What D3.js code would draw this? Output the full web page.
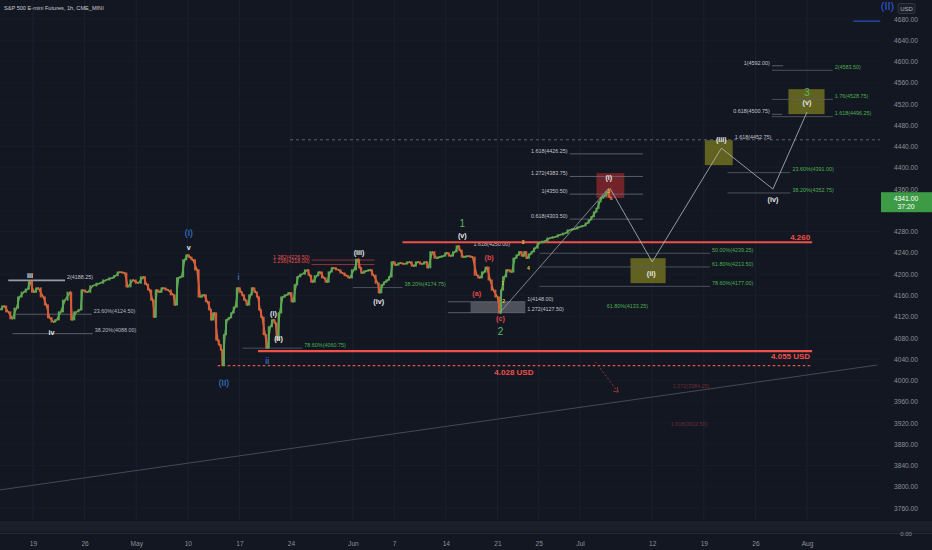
<!DOCTYPE html>
<html><head><meta charset="utf-8">
<script src="https://cdn.jsdelivr.net/npm/d3@7"></script>
<style>
html,body{margin:0;padding:0;background:#131722;}
svg{display:block;font-family:"Liberation Sans",Arial,sans-serif;}
</style></head>
<body><svg id="c" width="932" height="550"></svg>
<script>
// ---------- DATA ----------
const title = "S&P 500 E-mini Futures, 1h, CME_MINI";
// trading-day index (0 = Apr 19) and price
const days = [-3.2,-2.8,-2.4,-2.0,-1.6,-1.3,-0.9,-0.5,-0.3,0.1,0.5,1.0,1.3,1.6,2.0,2.3,2.7,3.1,3.6,3.8,4.2,4.6,4.8,5.3,5.8,6.5,7.1,7.7,8.0,8.4,8.9,9.2,9.7,10.2,10.7,11.0,11.3,11.6,11.8,12.0,12.3,12.6,13.1,13.6,13.8,14.1,14.4,14.7,15.0,15.2,15.5,15.9,16.2,16.6,16.9,17.2,17.3,17.6,17.9,18.1,18.3,18.4,18.6,18.8,19.1,19.3,19.6,19.9,20.2,20.3,20.6,20.8,21.1,21.3,21.6,21.8,22.0,22.2,22.5,22.7,23.0,23.3,23.5,23.7,23.9,24.2,24.6,24.9,25.2,25.5,25.7,26.1,26.6,26.8,27.1,27.5,27.8,28.2,28.5,28.8,29.1,29.6,30.0,30.4,30.7,31.1,31.5,31.7,31.9,32.3,32.7,33.0,33.4,33.6,33.9,34.1,34.4,34.6,34.9,35.2,35.6,36.0,36.5,36.9,37.3,37.7,38.1,38.3,38.7,39.1,39.4,39.8,40.1,40.5,40.9,41.2,41.4,41.7,42.2,42.6,43.0,43.3,43.7,44.0,44.3,44.6,45.0,45.3,45.4,45.7,46.0,46.4,46.7,47.0,47.2,47.5,47.7,47.9,48.2,48.4,48.7,49.1,49.6,50.1,50.6,51.1,51.6,52.0,52.5,53.0,53.4,53.7,54.0,54.2,54.5,54.7,54.9,55.1,55.4,55.7,55.9,56.1];
const prices = [4133,4140,4129,4116,4136,4157,4166,4172,4186,4166,4174,4157,4142,4118,4110,4114,4129,4151,4166,4114,4129,4133,4170,4166,4178,4183,4189,4193,4197,4204,4202,4176,4189,4183,4195,4181,4170,4151,4119,4170,4166,4174,4170,4161,4142,4193,4195,4227,4236,4232,4227,4208,4157,4161,4148,4133,4114,4127,4076,4067,4057,4028,4086,4114,4118,4127,4138,4174,4166,4161,4151,4142,4161,4174,4166,4157,4133,4119,4086,4061,4101,4114,4108,4076,4127,4157,4161,4165,4148,4180,4195,4200,4208,4198,4185,4197,4204,4193,4185,4204,4212,4208,4202,4197,4193,4208,4228,4212,4202,4206,4208,4198,4183,4165,4180,4185,4189,4195,4223,4217,4221,4219,4223,4215,4223,4219,4223,4212,4242,4230,4232,4234,4240,4234,4242,4253,4245,4232,4234,4232,4198,4193,4204,4213,4189,4170,4157,4127,4170,4195,4208,4204,4230,4236,4242,4234,4242,4230,4238,4242,4249,4259,4262,4268,4270,4274,4277,4283,4285,4289,4291,4296,4302,4308,4317,4324,4336,4343,4347,4355,4345,4341];
const lastPrice = 4341.00, countdown = "37:20";
const priceTicks = [3760,3800,3840,3880,3920,3960,4000,4040,4080,4120,4160,4200,4240,4280,4360,4400,4440,4480,4520,4560,4600,4640,4680];
const timeTickDays = [0,5,10,15,20,25,31,35,40,45,49,53,60,65,70,75];
const timeTickLabels = ["19","26","May","10","17","24","Jun","7","14","21","25","Jul","12","19","26","Aug"];

// key levels: price, from day, to day, label, dashed
const keyLevels = [
  {p:4260, d0:35.8, d1:75.5, label:"4.260", dash:false},
  {p:4055, d0:21.8, d1:75.5, label:"4.055 USD", dash:false},
  {p:4028, d0:17.9, d1:75.5, label:"4.028 USD", dash:true, ld:46.6}
];
// fib levels: text, price, line from/to day, text side ('r' = right of line, 'l' = left), colour key
const fibLevels = [
  {t:"2(4188.25)", p:4188.25, d0:-2.4, d1:3.1, side:"r", c:"w", bold:true},
  {t:"23.60%(4124.50)", p:4124.5, d0:-1.8, d1:5.7, side:"r", c:"g2"},
  {t:"38.20%(4088.00)", p:4088.0, d0:-2.0, d1:5.8, side:"r", c:"g2"},
  {t:"78.60%(4060.75)", p:4060.75, d0:20.3, d1:26.1, side:"r", c:"g"},
  {t:"1.382(4226.50)", p:4226.5, d0:27.0, d1:33.1, side:"l", c:"r"},
  {t:"1.236(4218.00)", p:4218.0, d0:27.0, d1:33.1, side:"l", c:"r"},
  {t:"38.20%(4174.75)", p:4174.75, d0:31.0, d1:35.8, side:"r", c:"g"},
  {t:"1.618(4250.00)", p:4250.0, d0:42.5, d1:42.5, side:"r", c:"w"},
  {t:"1(4148.00)", p:4148.0, d0:40.2, d1:47.7, side:"r", c:"w"},
  {t:"1.272(4127.50)", p:4127.5, d0:40.2, d1:47.7, side:"r", c:"w"},
  {t:"1.618(4426.25)", p:4426.25, d0:52.0, d1:59.1, side:"l", c:"w"},
  {t:"1.272(4383.75)", p:4383.75, d0:52.0, d1:59.1, side:"l", c:"w"},
  {t:"1(4350.50)", p:4350.5, d0:52.0, d1:59.1, side:"l", c:"w"},
  {t:"0.618(4303.50)", p:4303.5, d0:52.0, d1:59.1, side:"l", c:"w"},
  {t:"50.00%(4239.25)", p:4239.25, d0:49.1, d1:65.6, side:"r", c:"g"},
  {t:"61.80%(4213.50)", p:4213.5, d0:49.1, d1:65.6, side:"r", c:"g"},
  {t:"78.60%(4177.00)", p:4177.0, d0:49.1, d1:65.6, side:"r", c:"g"},
  {t:"61.80%(4133.25)", p:4133.25, d0:55.4, d1:55.4, side:"r", c:"g"},
  {t:"1.618(4452.75)", p:4452.75, d0:67.8, d1:67.8, side:"r", c:"w"},
  {t:"23.60%(4391.00)", p:4391.0, d0:67.3, d1:73.4, side:"r", c:"g"},
  {t:"38.20%(4352.75)", p:4352.75, d0:67.3, d1:73.4, side:"r", c:"g"},
  {t:"1(4592.00)", p:4592.0, d0:71.6, d1:72.7, side:"l", c:"w"},
  {t:"2(4583.50)", p:4583.5, d0:71.6, d1:77.5, side:"r", c:"g"},
  {t:"1.76(4528.75)", p:4528.75, d0:71.6, d1:77.5, side:"r", c:"g"},
  {t:"0.618(4500.75)", p:4500.75, d0:71.6, d1:72.6, side:"l", c:"w"},
  {t:"1.618(4496.25)", p:4496.25, d0:71.6, d1:77.5, side:"r", c:"g"},
  {t:"1.272(3984.25)", p:3984.25, d0:61.8, d1:61.8, side:"r", c:"dr"},
  {t:"1.618(3912.50)", p:3912.5, d0:61.6, d1:61.6, side:"r", c:"dr"}
];
const extLevel = {p:4452.75, d0:24.9, d1:82.1};   // dashed grey extension line
// target zones: day range, price range, kind
const zones = [
  {d0:54.6, d1:57.3, p0:4343, p1:4390, k:"red"},
  {d0:57.9, d1:61.3, p0:4183, p1:4230, k:"olive"},
  {d0:65.1, d1:67.8, p0:4405, p1:4452, k:"olive"},
  {d0:73.2, d1:76.7, p0:4501, p1:4548, k:"olive"},
  {d0:42.4, d1:47.7, p0:4127.5, p1:4148, k:"grey"}
];
// projected path
const projDays = [55.9, 60.0, 66.7, 71.7, 75.0];
const projPrices = [4362, 4223, 4437, 4360, 4505];
const channelDays = [45.3, 55.8], channelPrices = [4129, 4362];
const trendDays = [-3.2, 81.8], trendPrices = [3794, 4029];
const arrowDays = [54.5, 56.7], arrowPrices = [4035, 3978];
const topLineDays = [79.5, 82.1], topLinePrice = 4676;
// wave labels: text, day, price, kind
const waveLabels = [
  ["iii",-0.3,4198,"w"],["iv",1.8,4091,"w"],["(I)",15.1,4277,"b"],["v",15.1,4251,"w"],
  ["i",19.9,4195,"b"],["ii",22.7,4037,"b"],["(II)",18.5,3995,"b"],["(i)",23.3,4125,"w"],
  ["(ii)",23.8,4078,"w"],["(iii)",31.6,4240,"w"],["(iv)",33.5,4148,"w"],["1",41.6,4296,"G"],
  ["(v)",41.6,4272,"w"],["(b)",44.2,4232,"r"],["(a)",43.0,4163,"r"],["(c)",45.3,4116,"r"],
  ["2",45.3,4093,"G"],["1",45.5,4183,"y"],["2",45.6,4150,"y"],["3",47.5,4260,"y"],
  ["4",48.0,4212,"y"],["5",55.8,4356,"y"],["(i)",55.8,4381,"w"],["(ii)",59.9,4202,"w"],
  ["(iii)",66.7,4454,"w"],["(iv)",71.7,4341,"w"],["3",75.0,4541,"G"],["(v)",75.0,4522,"w"],
  ["(II)",82.8,4705,"B"]
];

// ---------- SCALES ----------
const W = 932, H = 550, plotR = 880, plotB = 520;
const x = d3.scaleLinear().domain([0, 75]).range([33, 807]);
const y = d3.scaleLinear().domain([3760, 4680]).range([508, 19]);
const svg = d3.select("#c");
svg.append("rect").attr("width",W).attr("height",H).attr("fill","#131722");

// grid
const grid = svg.append("g");
grid.selectAll("line.v").data(timeTickDays).join("line")
  .attr("x1",d=>x(d)).attr("x2",d=>x(d)).attr("y1",0).attr("y2",plotB)
  .attr("stroke","#1c2030").attr("stroke-width",1);
grid.selectAll("line.h").data(d3.range(3760,4700,40)).join("line")
  .attr("x1",0).attr("x2",plotR).attr("y1",d=>y(d)).attr("y2",d=>y(d))
  .attr("stroke","#181c28").attr("stroke-width",1);

const plot = svg.append("g");
svg.append("clipPath").attr("id","clip").append("rect").attr("width",plotR).attr("height",plotB);
plot.attr("clip-path","url(#clip)");

// trend line
plot.append("line").attr("x1",x(trendDays[0])).attr("y1",y(trendPrices[0]))
  .attr("x2",x(trendDays[1])).attr("y2",y(trendPrices[1])).attr("stroke","#4a4f5c").attr("stroke-width",0.9);

// zones
const zoneFill = {red:"rgba(150,40,45,0.72)", olive:"rgba(128,128,30,0.72)", grey:"rgba(150,152,160,0.45)"};
plot.selectAll("rect.z").data(zones).join("rect")
  .attr("x",d=>x(d.d0)).attr("width",d=>x(d.d1)-x(d.d0))
  .attr("y",d=>y(d.p1)).attr("height",d=>y(d.p0)-y(d.p1)).attr("fill",d=>zoneFill[d.k]);

// dashed extension
plot.append("line").attr("x1",x(extLevel.d0)).attr("x2",x(extLevel.d1)).attr("y1",y(extLevel.p)).attr("y2",y(extLevel.p))
  .attr("stroke","#5d6170").attr("stroke-width",1).attr("stroke-dasharray","3,3");

// fib lines + labels
const fibCol = {w:"#c3c5cc", g:"#4caf50", g2:"#b5b8c0", r:"#e05050", dr:"#6a2c30"};
const lineCol = {w:"#6b6f7a", g:"#5a5e69", g2:"#6b6f7a", r:"#b04040", dr:"#3a2024"};
fibLevels.forEach(f=>{
  if (f.d1 > f.d0) plot.append("line").attr("x1",x(f.d0)).attr("x2",x(f.d1)).attr("y1",y(f.p)).attr("y2",y(f.p))
    .attr("stroke", f.bold ? "#9a9ca3" : lineCol[f.c]).attr("stroke-width", f.bold?1.6:0.8);
  const tx = f.side==="r" ? x(f.d1)+2 : x(f.d0)-2;
  plot.append("text").attr("x",tx).attr("y",y(f.p)-1.2)
    .attr("text-anchor", f.side==="r" ? "start":"end")
    .attr("font-size",5.4).attr("fill",fibCol[f.c]).text(f.t);
});

// key levels
keyLevels.forEach(k=>{
  plot.append("line").attr("x1",x(k.d0)).attr("x2",x(k.d1)).attr("y1",y(k.p)).attr("y2",y(k.p))
    .attr("stroke","#f0504a").attr("stroke-width", k.dash?1.3:2.2).attr("stroke-dasharray",k.dash?"2.5,2.5":null);
});
plot.append("text").attr("x",x(keyLevels[0].d1)-2).attr("y",y(keyLevels[0].p)-2.5).attr("text-anchor","end")
  .attr("font-size",8).attr("font-weight","bold").attr("fill","#f0504a").text(keyLevels[0].label);
plot.append("text").attr("x",x(keyLevels[1].d1)-2).attr("y",y(keyLevels[1].p)+7.5).attr("text-anchor","end")
  .attr("font-size",8).attr("font-weight","bold").attr("fill","#f0504a").text(keyLevels[1].label);
plot.append("text").attr("x",x(keyLevels[2].ld)).attr("y",y(keyLevels[2].p)+9).attr("text-anchor","middle")
  .attr("font-size",8).attr("font-weight","bold").attr("fill","#f0504a").text(keyLevels[2].label);

// price path: segments plus narrow candle bodies
const cg = plot.append("g");
for (let i=1;i<days.length;i++){
  const o = prices[i-1], c = prices[i];
  const x0 = x(days[i-1]), x1 = x(days[i]);
  const up = c >= o;
  const col = up ? "#5aa855" : "#d95a3a";
  cg.append("line").attr("x1",x0).attr("y1",y(o)).attr("x2",x1).attr("y2",y(c))
    .attr("stroke",up ? "#6aa24e" : "#c9783a").attr("stroke-width",1.6).attr("stroke-linecap","round");
  cg.append("rect").attr("x",(x0+x1)/2-1).attr("width",2)
    .attr("y",y(Math.max(o,c))-0.5).attr("height",Math.max(1.5,Math.abs(y(o)-y(c))+1)).attr("fill",col);
}

// channel & projection
plot.append("line").attr("x1",x(channelDays[0])).attr("y1",y(channelPrices[0])).attr("x2",x(channelDays[1])).attr("y2",y(channelPrices[1]))
  .attr("stroke","#9ea1aa").attr("stroke-width",0.8);
plot.append("path").datum(projDays.map((d,i)=>[d,projPrices[i]]))
  .attr("d",d3.line().x(d=>x(d[0])).y(d=>y(d[1]))).attr("fill","none").attr("stroke","#b8bac1").attr("stroke-width",0.8);

// arrow
plot.append("line").attr("x1",x(arrowDays[0])).attr("y1",y(arrowPrices[0])).attr("x2",x(arrowDays[1])).attr("y2",y(arrowPrices[1]))
  .attr("stroke","#a33a3a").attr("stroke-width",0.9).attr("stroke-dasharray","2,2");
{
  const ax = x(arrowDays[1]), ay = y(arrowPrices[1]);
  plot.append("path").attr("d",`M${ax-5},${ay-1}L${ax},${ay}L${ax-1},${ay-5}`).attr("fill","none").attr("stroke","#a33a3a").attr("stroke-width",0.9);
}

// top blue line
svg.append("line").attr("x1",x(topLineDays[0])).attr("x2",x(topLineDays[1])).attr("y1",y(topLinePrice)).attr("y2",y(topLinePrice))
  .attr("stroke","#2f5fe0").attr("stroke-width",1);

// wave labels
const wl = {w:["#e6e7ea",7.2,"bold"], b:["#3d8be0",8.5,"normal"], B:["#2f5fe0",11,"normal"], G:["#5cb85c",10,"normal"], r:["#e04848",7.2,"bold"], y:["#e5c531",5,"bold"]};
svg.selectAll("text.wl").data(waveLabels).join("text")
  .attr("x",d=>x(d[1])).attr("y",d=>y(d[2])).attr("text-anchor","middle").attr("dominant-baseline","central")
  .attr("fill",d=>wl[d[3]][0]).attr("font-size",d=>wl[d[3]][1]).attr("font-weight",d=>wl[d[3]][2]).text(d=>d[0]);

// title
svg.append("text").attr("x",4).attr("y",10).attr("font-size",5.6).attr("fill","#c9cbd1").text(title);

// lower pane band
svg.append("rect").attr("x",0).attr("y",521).attr("width",W).attr("height",11).attr("fill","#1b1f2a");
svg.append("line").attr("x1",0).attr("x2",W).attr("y1",533.5).attr("y2",533.5).attr("stroke","#262a36");
svg.append("text").attr("x",906).attr("y",536).attr("text-anchor","middle").attr("font-size",6).attr("fill","#8c8f98").text("0.00");

// price axis
const ya = d3.axisRight(y).tickValues(priceTicks).tickFormat(d=>d.toFixed(2)).tickSize(0).tickPadding(0);
const yg = svg.append("g").attr("transform",`translate(906,0)`).call(ya);
yg.select(".domain").remove();
yg.selectAll("text").attr("text-anchor","middle").attr("font-size",6.6).attr("fill","#8c8f98").attr("font-family","Liberation Sans, Arial, sans-serif");

// USD box
svg.append("rect").attr("x",898).attr("y",3.5).attr("width",17).attr("height",10).attr("rx",1.5).attr("fill","#1b1f2a").attr("stroke","#3a3e4a").attr("stroke-width",0.8);
svg.append("text").attr("x",906.5).attr("y",11).attr("text-anchor","middle").attr("font-size",6).attr("fill","#b2b5be").text("USD");

// last price box
const ly = y(lastPrice);
svg.append("rect").attr("x",881).attr("y",ly-7).attr("width",51).attr("height",20).attr("fill","#3d9b46");
svg.append("text").attr("x",906).attr("y",ly+1.5).attr("text-anchor","middle").attr("font-size",6.8).attr("fill","#ffffff").text(lastPrice.toFixed(2));
svg.append("text").attr("x",906).attr("y",ly+9.5).attr("text-anchor","middle").attr("font-size",6.8).attr("fill","#ffffff").text(countdown);

// time axis
const xa = d3.axisBottom(x).tickValues(timeTickDays).tickFormat((d,i)=>timeTickLabels[i]).tickSize(0).tickPadding(0);
const xg = svg.append("g").attr("transform",`translate(0,541)`).call(xa);
xg.select(".domain").remove();
xg.selectAll("text").attr("font-size",6.6).attr("fill","#8c8f98").attr("font-family","Liberation Sans, Arial, sans-serif");
</script></body></html>
